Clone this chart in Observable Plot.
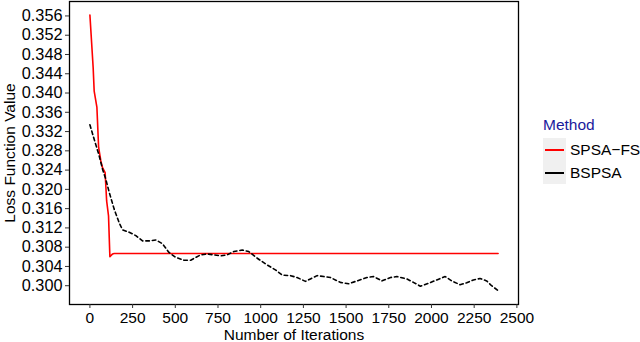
<!DOCTYPE html>
<html>
<head>
<meta charset="utf-8">
<script src="https://cdn.jsdelivr.net/npm/d3@7"></script>
<script src="https://cdn.jsdelivr.net/npm/@observablehq/plot@0.6"></script>
<style>
  html, body { margin: 0; padding: 0; background: white; }
  #wrap { position: relative; width: 640px; height: 342px; font-family: "Liberation Sans", Arial, sans-serif; }
  #legend { position: absolute; left: 543px; top: 115px; font-size: 15.5px; color: black; }
  #legend .title { color: #1a1a9c; margin-bottom: 3px; line-height: 20px; }
  #legend .row { display: flex; align-items: center; height: 23px; }
  #legend .key { width: 23px; height: 23px; background: #f0f0f0; position: relative; margin-right: 4px; }
  #legend .key span { position: absolute; left: 2px; right: 2px; top: 10.5px; height: 2px; }
</style>
</head>
<body>
<div id="wrap"></div>
<script>
const seriesNames = ["SPSA\u2212FS", "BSPSA"];
const seriesColors = ["red", "black"];

const spsaIter = [0, 19, 25, 41, 51, 64, 74, 89, 98, 109, 117, 133, 142, 2390];
const spsaLoss = [0.3562, 0.3453, 0.3404, 0.3370, 0.3287, 0.3259, 0.3245, 0.3235, 0.3176, 0.3145, 0.3060, 0.3066, 0.3067, 0.3067];

const bspsaIter = [0, 25, 54, 74, 93, 113, 142, 171, 191, 230, 269, 308, 346, 386, 425, 463, 502, 551, 590, 648, 687, 726, 767, 804, 843, 892, 930, 980, 1038, 1086, 1126, 1174, 1213, 1262, 1291, 1330, 1369, 1408, 1466, 1515, 1564, 1622, 1661, 1710, 1760, 1797, 1856, 1894, 1935, 1982, 2031, 2080, 2119, 2167, 2206, 2245, 2284, 2323, 2352, 2390];
const bspsaLoss = [0.3334, 0.3304, 0.3270, 0.3242, 0.3221, 0.3194, 0.3159, 0.3131, 0.3116, 0.3111, 0.3104, 0.3093, 0.3093, 0.3095, 0.3087, 0.3069, 0.3059, 0.3053, 0.3053, 0.3064, 0.3066, 0.3064, 0.3062, 0.3064, 0.3071, 0.3074, 0.3071, 0.3057, 0.3043, 0.3033, 0.3022, 0.3021, 0.3017, 0.3009, 0.3014, 0.3021, 0.3019, 0.3017, 0.3007, 0.3004, 0.3010, 0.3017, 0.3019, 0.3010, 0.3017, 0.3019, 0.3014, 0.3007, 0.2999, 0.3005, 0.3012, 0.3019, 0.3010, 0.3002, 0.3006, 0.3012, 0.3015, 0.3010, 0.3000, 0.2990];

const xTicks = [0, 250, 500, 750, 1000, 1250, 1500, 1750, 2000, 2250, 2500];
const yTicks = [0.300, 0.304, 0.308, 0.312, 0.316, 0.320, 0.324, 0.328, 0.332, 0.336, 0.340, 0.344, 0.348, 0.352, 0.356];

const spsa = spsaIter.map((x, i) => ({x, y: spsaLoss[i], method: seriesNames[0]}));
const bspsa = bspsaIter.map((x, i) => ({x, y: bspsaLoss[i], method: seriesNames[1]}));

const chart = Plot.plot({
  width: 640,
  height: 342,
  marginLeft: 69,
  marginRight: 122,
  marginTop: 1,
  marginBottom: 38,
  style: {fontFamily: "'Liberation Sans', Arial, sans-serif", fontSize: "15.5px", color: "black", background: "white", overflow: "visible"},
  x: {domain: [-119.5, 2509.5]},
  y: {domain: [0.2961, 0.3590]},
  marks: [
    Plot.frame({stroke: "black", strokeWidth: 1.3}),
    Plot.axisX({ticks: xTicks, tickSize: 4, tickPadding: 3, stroke: "#333", tickFormat: d3.format("d"), label: "Number of Iterations", labelAnchor: "center", labelArrow: "none"}),
    Plot.axisY({ticks: yTicks, tickSize: 4, tickPadding: 3, stroke: "#333", fontSize: 16.3, tickFormat: d3.format(".3f"), label: null}),
    Plot.axisY({ticks: [], label: "Loss Function Value", labelAnchor: "center", labelArrow: "none", tickSize: 0}),
    Plot.line(spsa, {x: "x", y: "y", stroke: seriesColors[0], strokeWidth: 1.6}),
    Plot.line(bspsa, {x: "x", y: "y", stroke: seriesColors[1], strokeWidth: 1.6, strokeDasharray: "3.5,3"})
  ]
});

const wrap = document.getElementById("wrap");
wrap.appendChild(chart);

const legend = document.createElement("div");
legend.id = "legend";
let html = `<div class="title">Method</div>`;
seriesNames.forEach((name, i) => {
  html += `<div class="row"><div class="key"><span style="background:${seriesColors[i]}"></span></div><div>${name}</div></div>`;
});
legend.innerHTML = html;
wrap.appendChild(legend);
</script>
</body>
</html>
